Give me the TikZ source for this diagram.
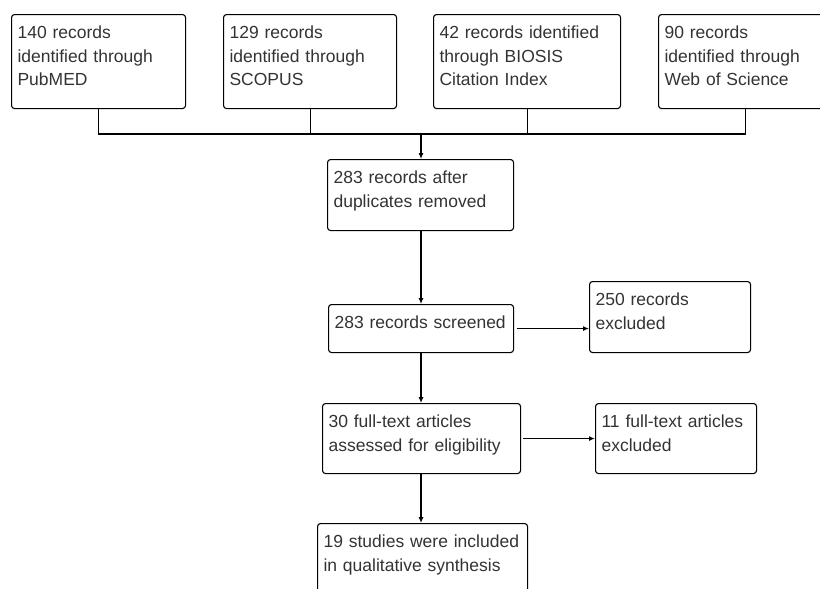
\documentclass[tikz,border=0pt]{standalone}
\usepackage{fontspec}
\setmainfont{Liberation Sans}
\usetikzlibrary{arrows.meta}
\begin{document}
\begin{tikzpicture}[x=1pt,y=-1pt,
  stage/.style={draw,line width=1.1pt,rounded corners=3pt,anchor=north west,
    inner xsep=6pt,inner ysep=0pt,align=left,text height=24pt,text=black!80,
    font=\fontsize{17.5}{23.5}\selectfont},
  link/.style={draw,line width=1.1pt},
  >={Latex[length=6pt,width=5pt]}]
\useasboundingbox (0,0) rectangle (820,589);

\node[stage,text width=162pt,text depth=70pt] (pubmed) at (11,14) {140 records\\identified through\\PubMED};
\node[stage,text width=161pt,text depth=70pt] (scopus) at (223,14) {129 records\\identified through\\SCOPUS};
\node[stage,text width=175pt,text depth=70pt] (biosis) at (433,14) {42 records identified\\through BIOSIS\\Citation Index};
\node[stage,text width=162pt,text depth=70pt] (wos) at (658,14) {90 records\\identified through\\Web of Science};

\node[stage,text width=174pt,text depth=47pt] (dupl) at (327,159) {283 records after\\duplicates removed};
\node[stage,text width=173pt,text depth=24pt] (screen) at (328,304) {283 records screened};
\node[stage,text width=149pt,text depth=47pt] (excl) at (589,281) {250 records\\excluded};
\node[stage,text width=186pt,text depth=46pt] (full) at (322,403) {30 full-text articles\\assessed for eligibility};
\node[stage,text width=149pt,text depth=46pt] (fullexcl) at (595,403) {11 full-text articles\\excluded};
\node[stage,text width=198pt,text depth=56pt] (incl) at (317,523) {19 studies were included\\in qualitative synthesis};

\coordinate (bus) at (421,134);
\path[link] (pubmed.south) |- (wos.south |- bus) -- (wos.south);
\path[link] (scopus.south) -- (scopus.south |- bus);
\path[link] (biosis.south) -- (biosis.south |- bus);
\path[link,->] (bus) -- (bus |- dupl.north);
\path[link,->] (bus |- dupl.south) -- (bus |- screen.north);
\path[link,->,shorten <=3pt] (screen.east) -- (screen.east -| excl.west);
\path[link,->] (bus |- screen.south) -- (bus |- full.north);
\path[link,->,shorten <=2pt] (full.east) -- (full.east -| fullexcl.west);
\path[link,->] (bus |- full.south) -- (bus |- incl.north);
\end{tikzpicture}
\end{document}
